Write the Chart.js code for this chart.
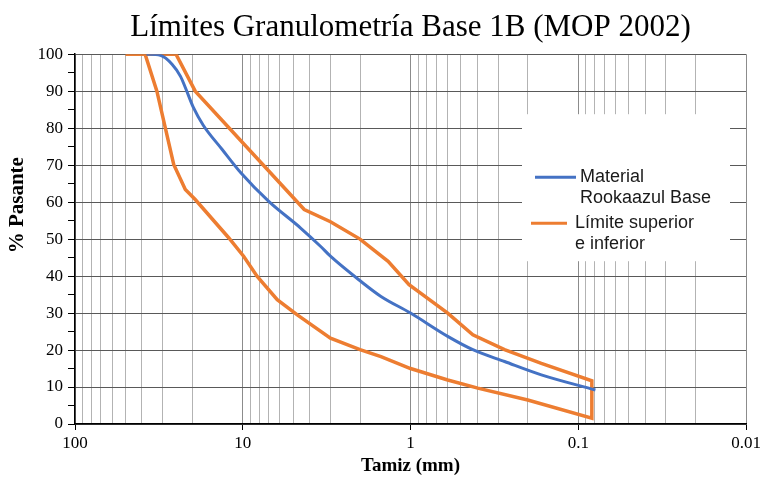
<!DOCTYPE html>
<html>
<head>
<meta charset="utf-8">
<script src="https://cdn.jsdelivr.net/npm/chart.js@4.4.0/dist/chart.umd.min.js"></script>
<style>
  html, body { margin: 0; padding: 0; background: #fff; }
  #wrap { width: 763px; height: 477px; }
</style>
</head>
<body>
<div id="wrap"><canvas id="granChart" width="763" height="477"></canvas></div>
<script>
// sieve size (mm) / % passing
const materialSize = [37.5, 31, 26.4, 23.5, 22, 19.7, 17.2, 13.3, 10.3, 7, 4.52, 3.43, 2.99, 1.98, 1.5, 1.0, 0.6, 0.425, 0.275, 0.166, 0.079];
const materialPass = [100, 99.7, 97.3, 94, 91, 85.6, 80.8, 74.3, 68, 60.2, 53, 48, 45.3, 38.6, 34.5, 30, 23.7, 20.1, 16.9, 13.3, 9.2];

// envelope drawn as one closed line: upper limit, down at the fine end, lower limit back
const limitSize = [50, 25, 19.2, 4.3, 3, 2, 1.36, 1.02, 0.6, 0.425, 0.275, 0.166, 0.083,
                   0.083, 0.2, 0.397, 0.6, 1.0, 1.5, 2, 3, 4.73, 6.23, 8.2, 9.86, 12.1, 19.2, 22, 25.8, 32.5, 38.2, 50];
const limitPass = [100, 100, 90, 58, 54.7, 50, 44, 37.7, 30, 24.1, 20.1, 16.4, 11.7,
                   1.6, 6.5, 9.7, 11.9, 15, 18.2, 20.1, 23.2, 29.5, 33.6, 39.9, 45.3, 50.3, 60.7, 63.4, 70.2, 90, 100, 100];

const decades = [0.01, 0.1, 1, 10, 100];
const yTicks = [0, 10, 20, 30, 40, 50, 60, 70, 80, 90, 100];

const chartTitle = 'Límites Granulometría Base 1B (MOP 2002)';
const xTitle = 'Tamiz (mm)';
const yTitle = '% Pasante';
const materialLabel = ['Material', 'Rookaazul Base'];
const limitLabel = ['Límite superior', 'e inferior'];

const BLUE = '#4472C4';
const ORANGE = '#ED7D31';
const SERIF = '"Liberation Serif", "Times New Roman", serif';

function toPoints(xs, ys) {
    return xs.map((x, i) => ({ x: x, y: ys[i] }));
}

function isDecade(v) {
    const l = Math.log10(v);
    return Math.abs(l - Math.round(l)) < 1e-9;
}

// white legend box sitting inside the plot, like the Excel one
const boxLegend = {
    id: 'boxLegend',
    afterDatasetsDraw(chart) {
        const { ctx, chartArea } = chart;
        const bx = chartArea.right - 224, by = chartArea.top + 60;
        ctx.save();
        ctx.fillStyle = '#fff';
        ctx.fillRect(bx, by, 208, 147);
        ctx.font = '18px "Liberation Sans", Arial, sans-serif';
        ctx.textBaseline = 'middle';
        ctx.fillStyle = '#1a1a1a';
        const items = [
            { ds: chart.data.datasets[0], lines: materialLabel, x0: bx + 13, x1: bx + 54, tx: bx + 58, y: by + 63 },
            { ds: chart.data.datasets[1], lines: limitLabel, x0: bx + 9, x1: bx + 45, tx: bx + 53, y: by + 109 }
        ];
        items.forEach(it => {
            ctx.strokeStyle = it.ds.borderColor;
            ctx.lineWidth = 3;
            ctx.beginPath();
            ctx.moveTo(it.x0, it.y);
            ctx.lineTo(it.x1, it.y);
            ctx.stroke();
            it.lines.forEach((t, i) => ctx.fillText(t, it.tx, it.y + i * 21));
        });
        ctx.restore();
    },
    // y title sits a bit above the middle of the axis in the original
    afterDraw(chart) {
        const { ctx, chartArea } = chart;
        ctx.save();
        ctx.translate(18, chartArea.top + 151);
        ctx.rotate(-Math.PI / 2);
        ctx.font = 'bold 21px ' + SERIF;
        ctx.fillStyle = '#000';
        ctx.textAlign = 'center';
        ctx.textBaseline = 'middle';
        ctx.fillText(yTitle, 0, 0);
        ctx.restore();
    }
};

function initChart() {
    const canvas = document.getElementById('granChart');
    new Chart(canvas, {
        type: 'scatter',
        data: {
            datasets: [
                {
                    label: materialLabel.join(' '),
                    data: toPoints(materialSize, materialPass),
                    showLine: true,
                    borderColor: BLUE,
                    backgroundColor: BLUE,
                    borderWidth: 3,
                    pointRadius: 0,
                    cubicInterpolationMode: 'monotone'
                },
                {
                    label: limitLabel.join(' '),
                    data: toPoints(limitSize, limitPass),
                    showLine: true,
                    borderColor: ORANGE,
                    backgroundColor: ORANGE,
                    borderWidth: 3.5,
                    pointRadius: 0,
                    tension: 0
                }
            ]
        },
        options: {
            responsive: false,
            animation: false,
            layout: { padding: { left: 0, right: 17, top: 0, bottom: 0 } },
            plugins: {
                legend: { display: false },
                tooltip: { enabled: false },
                title: {
                    display: true,
                    fullSize: false,
                    text: chartTitle,
                    color: '#000',
                    font: { family: SERIF, size: 31, weight: 'normal' },
                    padding: { top: 9, bottom: 8 }
                }
            },
            scales: {
                x: {
                    type: 'logarithmic',
                    reverse: true,
                    min: 0.01,
                    max: 100,
                    afterBuildTicks: scale => {
                        const t = [];
                        decades.slice(0, -1).forEach(d => {
                            for (let m = 1; m <= 9; m++) t.push({ value: m * d });
                        });
                        t.push({ value: decades[decades.length - 1] });
                        scale.ticks = t;
                    },
                    afterFit: scale => { scale.height = 53; },
                    ticks: {
                        autoSkip: false,
                        maxRotation: 0,
                        padding: 3,
                        color: '#000',
                        font: { family: SERIF, size: 17 },
                        callback: v => isDecade(v) ? String(decades.find(d => Math.abs(d - v) / d < 1e-6)) : ''
                    },
                    grid: {
                        color: c => isDecade(c.tick.value) ? '#8c8c8c' : '#b3b3b3',
                        tickColor: c => isDecade(c.tick.value) ? '#000' : 'rgba(0,0,0,0)',
                        tickLength: 6,
                        lineWidth: 1
                    },
                    border: { color: '#000', width: 1.5 },
                    title: {
                        display: true,
                        text: xTitle,
                        color: '#000',
                        font: { family: SERIF, size: 19, weight: 'bold' },
                        padding: { top: 0, bottom: 0 }
                    }
                },
                y: {
                    min: 0,
                    max: 100,
                    afterBuildTicks: scale => {
                        const t = [];
                        yTicks.forEach((v, i) => {
                            t.push({ value: v });
                            if (i < yTicks.length - 1) t.push({ value: (v + yTicks[i + 1]) / 2 });
                        });
                        scale.ticks = t;
                    },
                    afterFit: scale => { scale.width = 75; },
                    ticks: {
                        autoSkip: false,
                        padding: 5,
                        color: '#000',
                        font: { family: SERIF, size: 17 },
                        callback: v => yTicks.includes(v) ? String(v) : ''
                    },
                    grid: {
                        color: c => yTicks.includes(c.tick.value) ? '#595959' : 'rgba(0,0,0,0)',
                        tickColor: '#000',
                        tickLength: 7,
                        lineWidth: 1
                    },
                    border: { color: '#000', width: 1.5 },
                    title: { display: false, text: yTitle }
                }
            }
        },
        plugins: [boxLegend]
    });
}

window.onload = initChart;
</script>
</body>
</html>
